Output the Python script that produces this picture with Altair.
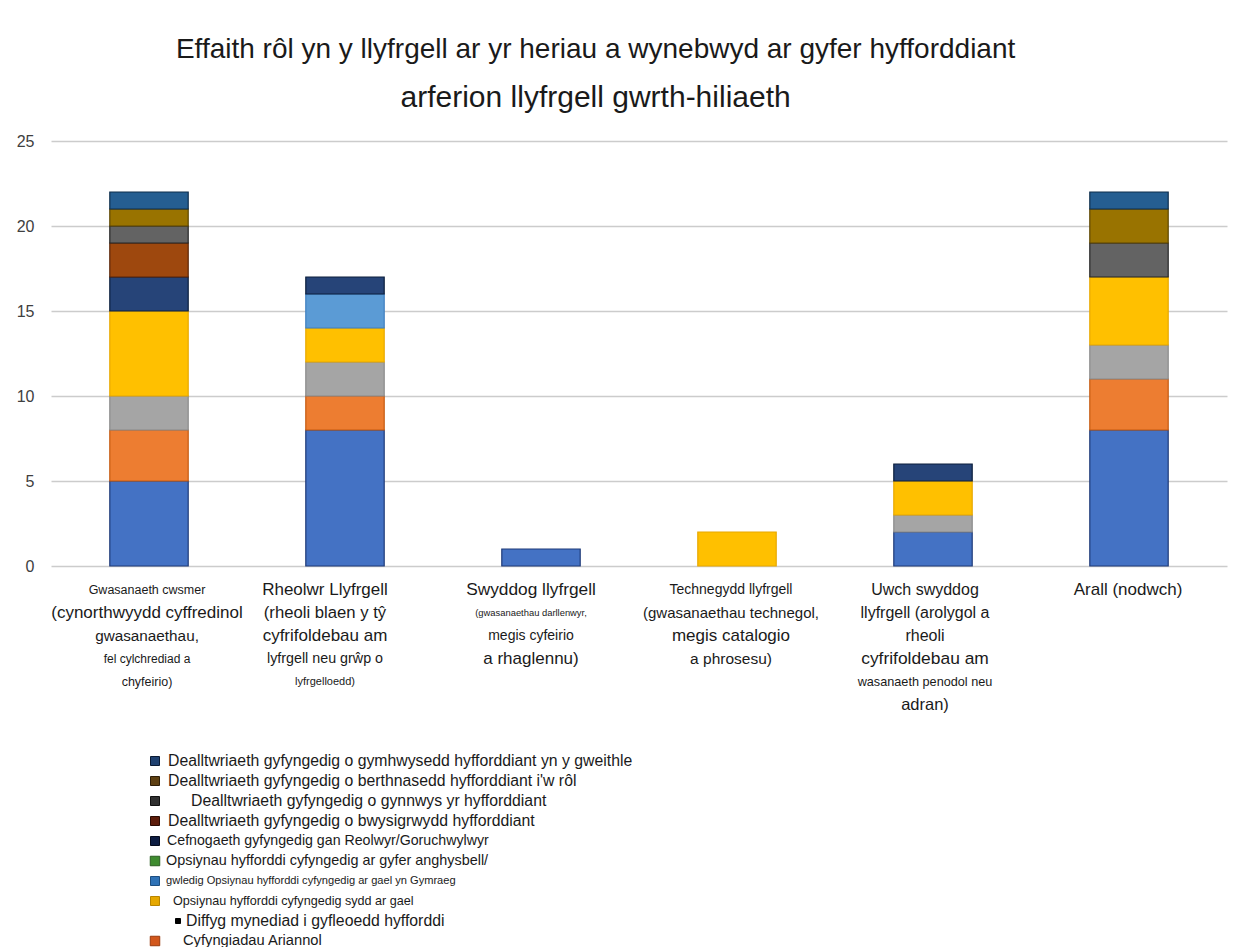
import altair as alt
import pandas as pd

# ---------------- data ----------------
categories = ["Gwasanaeth cwsmer", "Rheolwr Llyfrgell", "Swyddog llyfrgell",
              "Technegydd llyfrgell", "Uwch swyddog llyfrgell", "Arall (nodwch)"]

series_keys = ["s1", "s2", "s3", "s4", "s5", "s6", "s7", "s8", "s9", "s10", "s11"]
s1 = [5, 8, 1, 0, 2, 8]
s2 = [3, 2, 0, 0, 0, 3]
s3 = [2, 2, 0, 0, 1, 2]
s4 = [5, 2, 0, 2, 2, 4]
s5 = [0, 2, 0, 0, 0, 0]
s6 = [0, 0, 0, 0, 0, 0]
s7 = [2, 1, 0, 0, 1, 0]
s8 = [2, 0, 0, 0, 0, 0]
s9 = [1, 0, 0, 0, 0, 2]
s10 = [1, 0, 0, 0, 0, 2]
s11 = [1, 0, 0, 0, 0, 1]
series_values = [s1, s2, s3, s4, s5, s6, s7, s8, s9, s10, s11]

# tick label lines per category
cat_label_lines = [
    ["Gwasanaeth cwsmer", "(cynorthwyydd cyffredinol", "gwasanaethau,", "fel cylchrediad a", "chyfeirio)"],
    ["Rheolwr Llyfrgell", "(rheoli blaen y tŷ", "cyfrifoldebau am", "lyfrgell neu grŵp o", "lyfrgelloedd)"],
    ["Swyddog llyfrgell", "(gwasanaethau darllenwyr,", "megis cyfeirio", "a rhaglennu)"],
    ["Technegydd llyfrgell", "(gwasanaethau technegol,", "megis catalogio", "a phrosesu)"],
    ["Uwch swyddog", "llyfrgell (arolygol a", "rheoli", "cyfrifoldebau am", "wasanaeth penodol neu", "adran)"],
    ["Arall (nodwch)"],
]

# legend entries (top to bottom) and the series they belong to
legend_series = ["s11", "s10", "s9", "s8", "s7", "s6", "s5", "s4", "s3", "s2"]
legend_labels = [
    "Dealltwriaeth gyfyngedig o gymhwysedd hyfforddiant yn y gweithle",
    "Dealltwriaeth gyfyngedig o berthnasedd hyfforddiant i'w rôl",
    "Dealltwriaeth gyfyngedig o gynnwys yr hyfforddiant",
    "Dealltwriaeth gyfyngedig o bwysigrwydd hyfforddiant",
    "Cefnogaeth gyfyngedig gan Reolwyr/Goruchwylwyr",
    "Opsiynau hyfforddi cyfyngedig ar gyfer anghysbell/",
    "gwledig Opsiynau hyfforddi cyfyngedig ar gael yn Gymraeg",
    "Opsiynau hyfforddi cyfyngedig sydd ar gael",
    "Diffyg mynediad i gyfleoedd hyfforddi",
    "Cyfyngiadau Ariannol",
]

title_line1 = "Effaith rôl yn y llyfrgell ar yr heriau a wynebwyd ar gyfer hyfforddiant"
title_line2 = "arferion llyfrgell gwrth-hiliaeth"

# ---------------- styles ----------------
series_colors = ["#4472C4", "#ED7D31", "#A5A5A5", "#FFC000", "#5B9BD5", "#70AD47",
                 "#264478", "#9E480E", "#636363", "#997300", "#255E91"]
series_strokes = ["#1F3A78", "#C55A11", "#8A8A8A", "#E8A800", "#3F7FBF", "#507E32",
                  "#0C1E3C", "#5A2508", "#262626", "#5C4500", "#0E2E4D"]
# legend swatches look darker than the bars (heavy dark edges)
legend_swatch_fill = ["#1F4170", "#5E4012", "#303030", "#5C1C0A", "#0D1D42",
                      "#3F8C30", "#2F72B6", "#E6A800", "#000000", "#D2571C"]
legend_swatch_stroke = ["#0A1A33", "#2E1E08", "#111111", "#2A0A02", "#050B1C",
                        "#2A5E20", "#1D4E80", "#B88500", "#000000", "#9A3A0C"]
label_font_sizes = [
    [12.5, 17, 15.3, 12, 12.5],
    [17, 16.7, 17, 14.3, 11],
    [17.3, 9.4, 14, 17],
    [14, 15, 17, 15.5],
    [16, 16, 16, 17.4, 12.7, 16.5],
    [17],
]
label_dx = [-2, -20, -10, -6, -8, -1]
legend_text_x = [117, 117, 140, 117, 116, 115, 115, 122, 135, 132]
legend_font_sizes = [15.8, 15.8, 15.8, 15.8, 14.2, 14.4, 11.1, 12.6, 15.8, 14.7]
legend_swatch_x = [104, 104, 104, 104, 104, 104, 104, 104, 127, 104]
legend_swatch_size = [81, 81, 81, 81, 81, 90, 81, 81, 25, 90]

FONT = "Liberation Sans"
W = 1176
LINE_STEP = 23
LABEL_H = 170
NO_VIEW = alt.ViewBackground(stroke="transparent", strokeWidth=0)

# ---------------- tables ----------------
rows = []
for si, key in enumerate(series_keys):
    for ci, cat in enumerate(categories):
        rows.append({"cat": cat, "series": key, "order": si, "value": series_values[si][ci]})
bars_df = pd.DataFrame(rows)

lab_rows = []
for ci, cat in enumerate(categories):
    for li, txt in enumerate(cat_label_lines[ci]):
        lab_rows.append({"cat": cat, "line": li, "text": txt, "fs": label_font_sizes[ci][li]})
labels_df = pd.DataFrame(lab_rows)

leg_rows = []
for i, (key, lab) in enumerate(zip(legend_series, legend_labels)):
    leg_rows.append({
        "row": i, "series": key, "text": lab, "tx": legend_text_x[i], "fs": legend_font_sizes[i],
        "sx": legend_swatch_x[i], "ss": legend_swatch_size[i],
        "fill": legend_swatch_fill[i], "stroke": legend_swatch_stroke[i],
    })
legend_df = pd.DataFrame(leg_rows)

xscale = alt.Scale(domain=categories, paddingInner=0.6, paddingOuter=0.3)

bars = alt.Chart(bars_df).transform_filter("datum.value > 0").mark_bar(strokeWidth=1.2).encode(
    x=alt.X("cat:N", sort=categories, scale=xscale, axis=None),
    y=alt.Y("sum(value):Q", stack="zero",
            scale=alt.Scale(domain=[0, 25], nice=False),
            axis=alt.Axis(values=[0, 5, 10, 15, 20, 25], title=None, domain=False, ticks=False,
                          labelPadding=17, labelFontSize=16, labelFont=FONT, labelColor="#404040",
                          gridColor="#cccccc", gridWidth=1.3)),
    color=alt.Color("series:N", scale=alt.Scale(domain=series_keys, range=series_colors), legend=None),
    stroke=alt.Stroke("series:N", scale=alt.Scale(domain=series_keys, range=series_strokes), legend=None),
    order=alt.Order("order:Q", sort="ascending"),
).properties(width=W, height=425, view=NO_VIEW)

label_layers = []
for ci, cat in enumerate(categories):
    label_layers.append(
        alt.Chart(labels_df).transform_filter(alt.datum.cat == cat)
        .mark_text(font=FONT, color="#1a1a1a", baseline="middle", align="center", dx=label_dx[ci])
        .encode(
            x=alt.X("cat:N", sort=categories, scale=xscale, axis=None),
            y=alt.Y("line:Q", scale=alt.Scale(domain=[-0.6, LABEL_H / LINE_STEP - 0.6], reverse=True),
                    axis=None),
            text="text:N",
            size=alt.Size("fs:Q", scale=None, legend=None),
        )
    )
labels_chart = alt.layer(*label_layers).properties(width=W, height=LABEL_H, view=NO_VIEW)

leg_y = alt.Y("row:Q", scale=alt.Scale(domain=[-0.65, 9.35], reverse=True), axis=None)
swatches = alt.Chart(legend_df).mark_point(shape="square", filled=True, strokeWidth=1, opacity=1).encode(
    x=alt.X("sx:Q", scale=None),
    y=leg_y,
    fill=alt.Fill("fill:N", scale=None),
    stroke=alt.Stroke("stroke:N", scale=None),
    size=alt.Size("ss:Q", scale=None),
)
leg_text = alt.Chart(legend_df).mark_text(font=FONT, color="#1a1a1a", align="left", baseline="middle").encode(
    x=alt.X("tx:Q", scale=None),
    y=leg_y,
    text="text:N",
    size=alt.Size("fs:Q", scale=None, legend=None),
)
legend_chart = alt.layer(swatches, leg_text).properties(width=W, height=200, view=NO_VIEW)

chart = alt.vconcat(
    bars, labels_chart, legend_chart, spacing=2,
    title=alt.Title(title_line1, subtitle=title_line2, font=FONT, fontSize=28, fontWeight="normal",
                    color="#1a1a1a", subtitleFont=FONT, subtitleFontSize=30, subtitleColor="#1a1a1a",
                    subtitlePadding=19, anchor="middle", dx=-26, offset=20),
).resolve_scale(x="shared").properties(
    padding={"left": 8, "top": 28, "right": 8, "bottom": 0},
    background="white",
).configure_view(stroke="transparent", strokeWidth=0)

chart.save("out.html", embed_options={"renderer": "svg", "actions": False})
